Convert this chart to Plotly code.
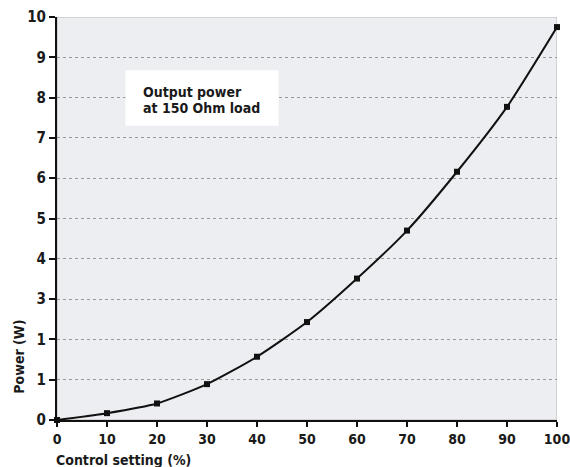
import plotly.graph_objects as go

# Output power versus control setting
control_pct = [0, 10, 20, 30, 40, 50, 60, 70, 80, 90, 100]
power_w = [0, 0.17, 0.41, 0.89, 1.57, 2.43, 3.51, 4.70, 6.16, 7.77, 9.75]

y_tick_vals = [0, 1, 2, 3, 4, 5, 6, 7, 8, 9, 10]
y_tick_text = ["0", "1", "1", "3", "4", "5", "6", "7", "8", "9", "10"]
x_tick_vals = [0, 10, 20, 30, 40, 50, 60, 70, 80, 90, 100]

label_lines = ["Output power", "at 150 Ohm load"]

FONT = "DejaVu Sans Condensed, Liberation Sans Narrow, DejaVu Sans"


def bold_font(size):
    return dict(family=FONT, size=size, color="#1a1a1a", weight="bold")


fig = go.Figure()

fig.add_trace(go.Scatter(
    x=control_pct,
    y=power_w,
    mode="lines+markers",
    line=dict(color="#111111", width=2, shape="spline", smoothing=0.6),
    marker=dict(symbol="square", size=6, color="#111111"),
    cliponaxis=False,
    showlegend=False,
))

# light frame around the plotting area
fig.add_shape(type="rect", xref="x", yref="y", x0=0, x1=100, y0=0, y1=10,
              line=dict(color="#b8b8b8", width=1), fillcolor="rgba(0,0,0,0)",
              layer="below")

# label box
fig.add_shape(type="rect", xref="paper", yref="paper",
              x0=0.137, x1=0.443, y0=0.73, y1=0.868,
              line=dict(width=0), fillcolor="white", layer="above")
for i, line in enumerate(label_lines):
    fig.add_annotation(
        xref="paper", yref="paper", x=0.168, y=0.814 - 0.04 * i,
        xanchor="left", yanchor="middle",
        text=line, showarrow=False, align="left",
        font=bold_font(14),
    )

# axis titles
fig.add_annotation(
    xref="paper", yref="paper", x=0.133, y=-0.1, xanchor="center", yanchor="middle",
    text="Control setting (%)", showarrow=False,
    font=bold_font(14),
)
fig.add_annotation(
    xref="paper", yref="paper", x=-0.075, y=0.156, xanchor="center", yanchor="middle",
    text="Power (W)", showarrow=False, textangle=-90,
    font=bold_font(14),
)

fig.update_xaxes(
    range=[0, 100], tickvals=x_tick_vals,
    ticks="outside", ticklen=5, tickwidth=2, tickcolor="#111111",
    showline=True, linecolor="#111111", linewidth=2,
    showgrid=False, zeroline=False,
    tickfont=bold_font(14),
    ticklabeloverflow="allow", automargin=False,
)
fig.update_yaxes(
    range=[0, 10], tickvals=y_tick_vals, ticktext=y_tick_text,
    ticks="outside", ticklen=6, tickwidth=2, tickcolor="#111111",
    showline=True, linecolor="#111111", linewidth=2,
    showgrid=True, gridcolor="#9a9a9a", gridwidth=1, griddash="dot",
    zeroline=False,
    tickfont=bold_font(15),
    ticklabeloverflow="allow", automargin=False,
)

fig.update_layout(
    width=570, height=467,
    margin=dict(l=57, r=13, t=17, b=47),
    paper_bgcolor="white",
    plot_bgcolor="#eceef2",
)

fig.write_html("out.html")
